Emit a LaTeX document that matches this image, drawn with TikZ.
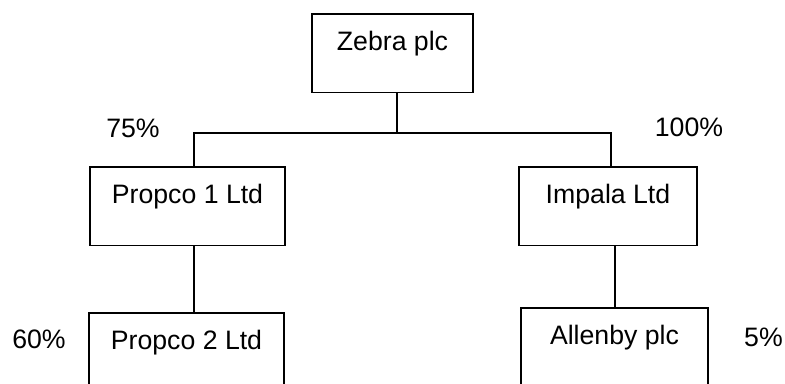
\documentclass[tikz,border=0pt]{standalone}
\usepackage{fontspec}
\setmainfont{Liberation Sans}
\tikzset{
    company/.style={draw, line width=0.8pt, inner xsep=0pt, inner ysep=0pt,
        text height=27pt, text depth=32pt, anchor=base, font=\fontsize{20}{24}\selectfont},
    share/.style={anchor=base, font=\fontsize{20}{24}\selectfont}
}
\begin{document}
\begin{tikzpicture}[x=0.75pt, y=-0.75pt, line width=0.8pt]
            \useasboundingbox (0, 0) rectangle (785, 383);
            \clip (0, 0) rectangle (785, 383);
            \node[company, minimum width=120.75pt] (zebra) at (392.5, 50) {Zebra plc};
            \node[company, minimum width=146.25pt] (propco1) at (187.5, 203) {Propco 1 Ltd};
            \node[company, minimum width=133.5pt] (impala) at (608, 203) {Impala Ltd};
            \node[company, minimum width=146.25pt] (propco2) at (186.5, 349) {Propco 2 Ltd};
            \node[company, minimum width=140.25pt] (allenby) at (614.5, 344) {Allenby plc};
            \node[share] (s75) at (133, 137) {75\%};
            \node[share] (s100) at (689, 136) {100\%};
            \node[share] (s60) at (39, 348) {60\%};
            \node[share] (s5) at (763.5, 346) {5\%};
            \coordinate (bar) at (397, 133);
            \coordinate (barl) at (194, 133);
            \coordinate (barr) at (611, 133);
            \coordinate (drop) at (615, 133);
            \draw (bar |- zebra.south) -- (bar);
            \draw (barl |- propco1.north) -- (barl) -- (barr) -- (barr |- impala.north);
            \draw (barl |- propco1.south) -- (barl |- propco2.north);
            \draw (drop |- impala.south) -- (drop |- allenby.north);
        \end{tikzpicture}
\end{document}
